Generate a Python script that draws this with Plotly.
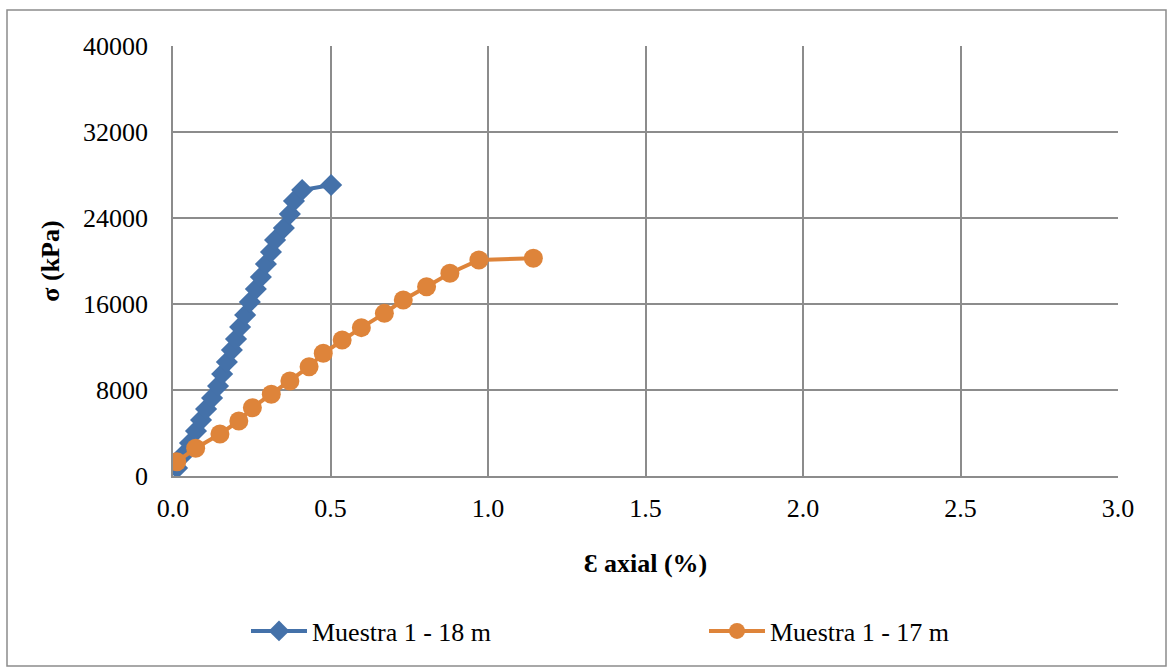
import plotly.graph_objects as go

# Muestra 1 - 18 m
strain_18 = [0.013, 0.032, 0.054, 0.073, 0.089, 0.105, 0.124, 0.143, 0.156, 0.171,
             0.187, 0.200, 0.213, 0.229, 0.244, 0.263, 0.279, 0.295, 0.311, 0.324,
             0.352, 0.371, 0.384, 0.410, 0.502]
stress_18 = [740, 1950, 3070, 4190, 5210, 6230, 7260, 8370, 9490, 10600,
             11720, 12740, 13860, 14980, 16190, 17400, 18510, 19720, 20840, 21950,
             23070, 24370, 25580, 26600, 27070]

# Muestra 1 - 17 m
strain_17 = [0.012, 0.072, 0.149, 0.209, 0.252, 0.312, 0.371, 0.432, 0.477, 0.537,
             0.598, 0.671, 0.731, 0.805, 0.879, 0.971, 1.144]
stress_17 = [1330, 2580, 3910, 5120, 6350, 7600, 8840, 10170, 11410, 12650,
             13800, 15130, 16370, 17610, 18860, 20090, 20250]

x_ticks = [0.0, 0.5, 1.0, 1.5, 2.0, 2.5, 3.0]
x_tick_labels = ["0.0", "0.5", "1.0", "1.5", "2.0", "2.5", "3.0"]
y_ticks = [0, 8000, 16000, 24000, 32000, 40000]
y_tick_labels = ["0", "8000", "16000", "24000", "32000", "40000"]

W, H = 1172, 669
ML, MR, MT, MB = 173, 54, 46, 193
PW, PH = W - ML - MR, H - MT - MB

BLUE = "#4471A9"
ORANGE = "#DE843A"
GRID = "#8C8C8C"
FONT = "Liberation Serif, Times New Roman, serif"
FS = 26

fig = go.Figure()
fig.add_trace(go.Scatter(
    x=strain_18, y=stress_18, mode="lines+markers", name="Muestra 1 - 18 m",
    line=dict(color=BLUE, width=4),
    marker=dict(symbol="diamond", size=17, color=BLUE),
    legend="legend",
))
fig.add_trace(go.Scatter(
    x=strain_17, y=stress_17, mode="lines+markers", name="Muestra 1 - 17 m",
    line=dict(color=ORANGE, width=4),
    marker=dict(symbol="circle", size=19, color=ORANGE),
    legend="legend2",
))

def px_x(p):
    return (p - ML) / PW

def px_y(p):
    return (H - MB - p) / PH

fig.add_shape(type="rect", xref="paper", yref="paper",
              x0=px_x(7), x1=px_x(1166), y0=px_y(10), y1=px_y(666),
              line=dict(color=GRID, width=1.5), layer="below")

leg_common = dict(orientation="h", yanchor="middle", xanchor="left",
                  bgcolor="rgba(0,0,0,0)", borderwidth=0,
                  font=dict(family=FONT, size=FS, color="black"),
                  itemsizing="trace", itemwidth=56)

fig.update_layout(
    width=W, height=H,
    margin=dict(l=ML, r=MR, t=MT, b=MB, pad=0, autoexpand=False),
    paper_bgcolor="white", plot_bgcolor="white",
    font=dict(family=FONT, size=FS, color="black"),
    showlegend=True,
    legend=dict(x=px_x(246), y=px_y(631), **leg_common),
    legend2=dict(x=px_x(704), y=px_y(631), **leg_common),
)
fig.update_xaxes(
    range=[0, 3], tickvals=x_ticks, ticktext=x_tick_labels,
    showgrid=True, gridcolor=GRID, gridwidth=1.5,
    showline=True, linecolor=GRID, linewidth=1.5, mirror=False,
    zeroline=False, ticks="", ticklabelstandoff=8,
    title=dict(text="<b>Ɛ axial (%)</b>", font=dict(family=FONT, size=FS), standoff=32),
)
fig.update_yaxes(
    range=[0, 40000], tickvals=y_ticks, ticktext=y_tick_labels,
    showgrid=True, gridcolor=GRID, gridwidth=1.5,
    showline=True, linecolor=GRID, linewidth=1.5,
    zeroline=False, ticks="", ticklabelstandoff=18,
    title=dict(text="<b>σ (kPa)</b>", font=dict(family=FONT, size=FS), standoff=16),
)

fig.write_html("out.html")
